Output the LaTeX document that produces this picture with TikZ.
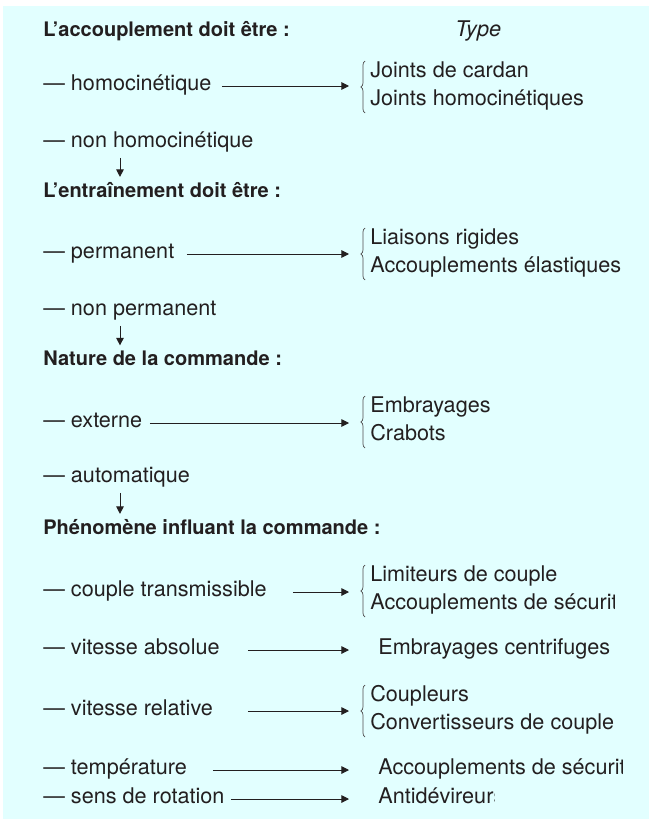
\documentclass[tikz,border=0pt]{standalone}
\usepackage{fontspec}
\setmainfont{TeX Gyre Heros}
\usetikzlibrary{arrows.meta,decorations.pathreplacing}
\definecolor{fondcyan}{RGB}{226,255,255}
\definecolor{encre}{RGB}{35,31,32}
\begin{document}
\begin{tikzpicture}[x=0.02cm, y=-0.02cm,
    titre/.style={anchor=mid west, inner sep=0pt, text=encre, font=\fontsize{11.4pt}{13pt}\selectfont\bfseries},
    choix/.style={anchor=mid west, inner sep=0pt, text=encre, font=\fontsize{12.3pt}{14pt}\selectfont},
    fleche/.style={-{Triangle[length=4.3pt,width=4.3pt]}, line width=0.55pt, draw=encre},
    accolade/.style={decorate, decoration={brace, amplitude=2.3pt}, line width=0.4pt, draw=encre!80}
]
    \useasboundingbox (0,0) rectangle (649,824);
    \fill[fondcyan] (3,6) rectangle (649,819);
    \coordinate (pointe) at (349,0);

    % Accouplement
    \node[titre] (h1) at (43,32) {L’accouplement doit être :};
    \node[choix, font=\fontsize{12.3pt}{14pt}\selectfont\itshape] (type) at (455,32) {Type};
    \node[choix] (o1) at (43,86) {— homocinétique};
    \node[choix] (j1) at (370,73) {Joints de cardan};
    \node[choix] (j2) at (370,101) {Joints homocinétiques};
    \node[choix] (o2) at (43,143) {— non homocinétique};

    % Entrainement
    \node[titre] (h2) at (43,193) {L’entraînement doit être :};
    \node[choix] (p1) at (43,254) {— permanent};
    \node[choix] (l1) at (370,240) {Liaisons rigides};
    \begin{scope}
        \clip (360,200) rectangle (620,290);
        \node[choix] (l2) at (370,268) {Accouplements élastiques};
    \end{scope}
    \node[choix] (p2) at (43,311) {— non permanent};

    % Commande
    \node[titre] (h3) at (43,361) {Nature de la commande :};
    \node[choix] (c1) at (43,423) {— externe};
    \node[choix] (e1) at (370,408) {Embrayages};
    \node[choix] (e2) at (370,436) {Crabots};
    \node[choix] (c2) at (43,478) {— automatique};

    % Phenomene
    \node[titre] (h4) at (43,530) {Phénomène influant la commande :};
    \node[choix] (f1) at (43,592) {— couple transmissible};
    \node[choix] (f2) at (43,650) {— vitesse absolue};
    \node[choix] (f3) at (43,711) {— vitesse relative};
    \node[choix] (f4) at (43,770) {— température};
    \node[choix] (f5) at (43,799) {— sens de rotation};
    \node[choix] (g3a) at (370,697) {Coupleurs};
    \node[choix] (g3b) at (370,725) {Convertisseurs de couple};
    \node[choix] (g1a) at (370,577) {Limiteurs de couple};
    \begin{scope}
        \clip (360,560) rectangle (614,620);
        \node[choix] (g1b) at (370,605) {Accouplements de sécurité};
    \end{scope}
    \begin{scope}
        \clip (360,630) rectangle (622,785);
        \node[choix] (g2) at (378,650) {Embrayages centrifuges};
        \node[choix] (g4) at (378,770) {Accouplements de sécurité};
    \end{scope}
    \begin{scope}
        \clip (360,785) rectangle (494,815);
        \node[choix] (g5) at (378,799) {Antidévireurs};
    \end{scope}

    % Accolades
    \draw[accolade] (365,113) -- (365,61);
    \draw[accolade] (365,280) -- (365,228);
    \draw[accolade] (365,448) -- (365,396);
    \draw[accolade] (365,617) -- (365,565);
    \draw[accolade] (365,737) -- (365,685);

    % Fleches horizontales
    \draw[fleche] ([xshift=3.58cm]o1.mid west) -- (o1.mid west -| pointe);
    \draw[fleche] ([xshift=2.88cm]p1.mid west) -- (p1.mid west -| pointe);
    \draw[fleche] ([xshift=2.14cm]c1.mid west) -- (c1.mid west -| pointe);
    \draw[fleche] ([xshift=5.00cm]f1.mid west) -- (f1.mid west -| pointe);
    \draw[fleche] ([xshift=4.10cm]f2.mid west) -- (f2.mid west -| pointe);
    \draw[fleche] ([xshift=4.10cm]f3.mid west) -- (f3.mid west -| pointe);
    \draw[fleche] ([xshift=3.40cm]f4.mid west) -- (f4.mid west -| pointe);
    \draw[fleche] ([xshift=3.76cm]f5.mid west) -- (f5.mid west -| pointe);

    % Fleches verticales
    \draw[fleche, shorten <=3pt, shorten >=3pt] ([xshift=1.54cm]o2.south west) -- ([xshift=1.54cm]h2.north west);
    \draw[fleche, shorten <=3pt, shorten >=3pt] ([xshift=1.54cm]p2.south west) -- ([xshift=1.54cm]h3.north west);
    \draw[fleche, shorten <=3pt, shorten >=3pt] ([xshift=1.54cm]c2.south west) -- ([xshift=1.54cm]h4.north west);
\end{tikzpicture}
\end{document}
